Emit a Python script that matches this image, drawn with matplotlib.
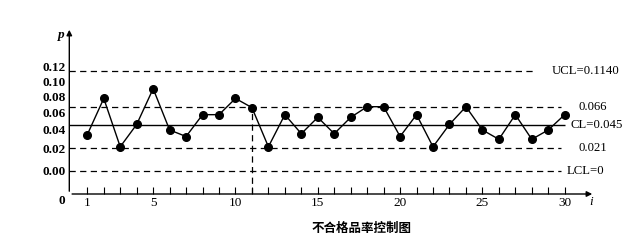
import numpy as np
import matplotlib
matplotlib.use("Agg")
import matplotlib.pyplot as plt

# ---- data ----
samples = list(range(1, 31))
p_values = [0.035, 0.077, 0.022, 0.046, 0.090, 0.040, 0.033, 0.057, 0.057, 0.077,
            0.065, 0.022, 0.057, 0.036, 0.054, 0.036, 0.054, 0.066, 0.066, 0.033,
            0.057, 0.022, 0.046, 0.066, 0.040, 0.030, 0.057, 0.030, 0.040, 0.057]
UCL = 0.114
upper_warn = 0.066
CL = 0.045
lower_warn = 0.021
LCL = 0.0
ytick_vals = [0.00, 0.02, 0.04, 0.06, 0.08, 0.10, 0.12]
ytick_labels = ["0.00", "0.02", "0.04", "0.06", "0.08", "0.10", "0.12"]
xtick_labeled = [1, 5, 10, 15, 20, 25, 30]
title = "不合格品率控制图"

# ---- schematic (piecewise-linear) y scale as drawn in the original ----
_sv = np.array([-0.05, 0.0, 0.021, 0.045, 0.066, 0.114, 0.3])
_sh = np.array([-31.45, 23.3, 46.3, 68.7, 87.3, 123.3, 262.8])
def fwd(v):
    return np.interp(v, _sv, _sh)
def inv(h):
    return np.interp(h, _sh, _sv)

plt.rcParams['font.family'] = ['Liberation Serif', 'DejaVu Serif']
fig = plt.figure(figsize=(6.41, 2.5), dpi=100)
ax = fig.add_axes([69.3/641, (250-194)/250, (595-69.3)/641, (194-27)/250])
ax.set_yscale('function', functions=(fwd, inv))
ax.set_xlim(-0.094, 31.84)
ax.set_ylim(inv(0.0), inv(167.0))

for s in ax.spines.values():
    s.set_visible(False)

dash = dict(color='black', lw=0.9, linestyles=(0, (5, 3.5)))
x0 = ax.get_xlim()[0]
ax.hlines(UCL, x0, 28.1, **dash)
ax.hlines(upper_warn, x0, 29.8, **dash)
ax.hlines(lower_warn, x0, 29.8, **dash)
ax.hlines(LCL, x0, 29.8, **dash)
ax.hlines(CL, x0, 30.0, color='black', lw=1.0)
ax.vlines(samples[10], ax.get_ylim()[0], p_values[10], **dash)

ax.plot(samples, p_values, color='black', lw=1.0, marker='o', ms=5.5,
        markerfacecolor='black', zorder=3)

fs = 9.5
rfs = 9.2
ax.annotate(f"UCL={UCL:.4f}", xy=(28.1, UCL), xytext=(13, 0), textcoords='offset points',
            ha='left', va='center', fontsize=rfs)
ax.annotate(f"{upper_warn:.3f}", xy=(29.8, upper_warn), xytext=(12, 0), textcoords='offset points',
            ha='left', va='center', fontsize=rfs)
ax.annotate(f"CL={CL:.3f}", xy=(30.0, CL), xytext=(4.5, 0), textcoords='offset points',
            ha='left', va='center', fontsize=rfs)
ax.annotate(f"{lower_warn:.3f}", xy=(29.8, lower_warn), xytext=(12, 0), textcoords='offset points',
            ha='left', va='center', fontsize=rfs)
ax.annotate(f"LCL={LCL:g}", xy=(29.8, LCL), xytext=(3.8, 0), textcoords='offset points',
            ha='left', va='center', fontsize=rfs)

ax.set_yticks(ytick_vals)
ax.set_yticklabels(ytick_labels, fontweight='bold')
ax.set_xticks(samples)
ax.set_xticklabels([str(i) if i in xtick_labeled else '' for i in samples])
ax.minorticks_off()
ax.tick_params(axis='y', length=0, pad=2.5, labelsize=fs)
ax.tick_params(axis='x', direction='in', length=5, width=0.8, pad=2, labelsize=fs)

# axes with arrows
ax.annotate('', xy=(1.0, 0), xytext=(0, 0), xycoords='axes fraction',
            arrowprops=dict(arrowstyle='-|>', color='black', lw=1.0, mutation_scale=8))
ax.annotate('', xy=(0, 1.0), xytext=(0, 0), xycoords='axes fraction',
            arrowprops=dict(arrowstyle='-|>', color='black', lw=1.0, mutation_scale=8))

ax.annotate('0', xy=(0, 0), xycoords='axes fraction', xytext=(-3, -5), textcoords='offset points',
            ha='right', va='center', fontsize=fs, weight='bold')
ax.annotate('i', xy=(1.0, 0), xycoords='axes fraction', xytext=(-3, -6), textcoords='offset points',
            ha='center', va='center', fontsize=fs, style='italic')
ax.annotate('p', xy=(0, 1.0), xycoords='axes fraction', xytext=(-6, -6), textcoords='offset points',
            ha='center', va='center', fontsize=fs, style='italic', weight='bold')

fig.text(362/641, 1-228/250, title, ha='center', va='center', fontsize=9,
         family=['Noto Sans CJK SC', 'DejaVu Sans'], weight='bold')

fig.savefig('out.png', dpi=100)
